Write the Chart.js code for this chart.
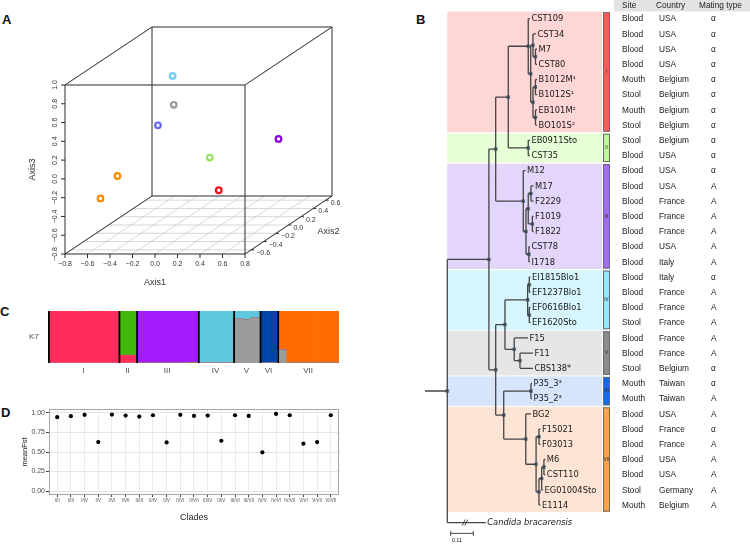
<!DOCTYPE html>
<html>
<head>
<meta charset="utf-8">
<script src="https://cdn.jsdelivr.net/npm/chart.js@4.4.1/dist/chart.umd.min.js"></script>
<style>
  html, body { margin: 0; padding: 0; background: #fff; }
  body { width: 750px; height: 544px; position: relative; overflow: hidden; font-family: 'Liberation Sans', Arial, sans-serif; }
  canvas { position: absolute; }
  .tag { position: absolute; font-weight: bold; font-size: 13px; line-height: 1; color: #111; }
</style>
</head>
<body>
<div class="tag" style="left:2px;top:13px">A</div>
<div class="tag" style="left:416px;top:13px">B</div>
<div class="tag" style="left:0px;top:305px">C</div>
<div class="tag" style="left:1px;top:406px">D</div>

<canvas id="pcoa" width="345" height="300" style="left:0;top:0;width:345px;height:300px"></canvas>
<canvas id="admix" width="345" height="85" style="left:0;top:300px;width:345px;height:85px"></canvas>
<canvas id="fst" width="345" height="149" style="left:0;top:395px;width:345px;height:149px"></canvas>
<canvas id="tree" width="350" height="544" style="left:400px;top:0;width:350px;height:544px"></canvas>

<script>
// ---------- A: 3D ordination of the clades ----------
const pcoaClades = ['I', 'II', 'III', 'IV', 'V', 'VI', 'VII', 'VII'];
const axis1Values = [0.18, -0.01, 0.49, -0.34, -0.22, -0.25, -0.61, -0.65];
const axis2Values = [0.0, 0.2, 0.4, 0.2, 0.0, -0.2, -0.2, -0.4];
const axis3Values = [-0.43, -0.17, -0.06, 0.70, 0.48, 0.35, -0.19, -0.34];
const axis1Ticks = [-0.8, -0.6, -0.4, -0.2, 0, 0.2, 0.4, 0.6, 0.8];
const axis2Ticks = [-0.6, -0.4, -0.2, 0, 0.2, 0.4, 0.6];
const axis3Ticks = [-0.8, -0.6, -0.4, -0.2, 0, 0.2, 0.4, 0.6, 0.8, 1.0];

// ---------- C: ancestry proportions, K = 7 (one value per strain) ----------
const popGrey   = [0,0,0,0,0,0,0,0, 0,0, 0,0,0,0,0,0,0, 0,0,0,0, 0.845,0.83,0.865, 0,0, 0.25,0,0,0,0,0,0];
const popRed    = [1,1,1,0.99,1,1,1,1, 0.15,0.15, 0,0,0,0,0,0,0, 0,0,0,0, 0,0,0, 0,0, 0,0,0,0,0,0,0];
const popGreen  = [0,0,0,0.01,0,0,0,0, 0.85,0.85, 0,0,0,0,0,0,0.01, 0,0,0,0, 0,0,0, 0,0, 0,0,0,0,0,0,0];
const popPurple = [0,0,0,0,0,0,0,0, 0,0, 1,1,1,1,1,1,0.99, 0,0,0,0, 0,0,0, 0,0, 0,0,0,0,0,0,0];
const popCyan   = [0,0,0,0,0,0,0,0, 0,0, 0,0,0,0,0,0,0, 1,1,1,1, 0.155,0.17,0.135, 0,0, 0,0,0,0,0,0,0];
const popBlue   = [0,0,0,0,0,0,0,0, 0,0, 0,0,0,0,0,0,0, 0,0,0,0, 0,0,0, 1,1, 0,0,0,0,0,0,0];
const popOrange = [0,0,0,0,0,0,0,0, 0,0, 0,0,0,0,0,0,0, 0,0,0,0, 0,0,0, 0,0, 0.75,1,1,1,1,1,1];

// ---------- D: pairwise mean Fst ----------
const fstPairs = ['I/II', 'I/III', 'I/IV', 'I/V', 'I/VI', 'I/VII', 'II/III', 'II/IV', 'II/V', 'II/VI', 'II/VII',
  'III/IV', 'III/V', 'III/VI', 'III/VII', 'IV/V', 'IV/VI', 'IV/VII', 'V/VI', 'V/VII', 'VI/VII'];
const meanFst = [0.945, 0.958, 0.975, 0.627, 0.979, 0.966, 0.953, 0.970, 0.623, 0.975, 0.962,
  0.966, 0.644, 0.970, 0.962, 0.496, 0.987, 0.970, 0.606, 0.627, 0.970];

// ---------- B: tree, clades and strain table ----------
const cladeNames = ['I', 'II', 'III', 'IV', 'V', 'VI', 'VII'];
const cladeSizes = [8, 2, 7, 4, 3, 2, 7];
const strainNames = ['CST109', 'CST34', 'M7', 'CST80', 'B1012M¹', 'B1012S¹', 'EB101M²', 'BO101S²',
  'EB0911Sto', 'CST35',
  'M12', 'M17', 'F2229', 'F1019', 'F1822', 'CST78', 'I1718',
  'EI1815Blo1', 'EF1237Blo1', 'EF0616Blo1', 'EF1620Sto',
  'F15', 'F11', 'CBS138*',
  'P35_3³', 'P35_2³',
  'BG2', 'F15021', 'F03013', 'M6', 'CST110', 'EG01004Sto', 'E1114'];
// distance of each tip from the root (substitutions per site)
const tipDepths = [0.401, 0.431, 0.436, 0.436, 0.436, 0.436, 0.436, 0.436,
  0.401, 0.401,
  0.380, 0.419, 0.419, 0.419, 0.419, 0.401, 0.401,
  0.404, 0.404, 0.404, 0.404,
  0.392, 0.416, 0.416,
  0.411, 0.411,
  0.406, 0.452, 0.452, 0.476, 0.476, 0.465, 0.452];
const sites = ['Blood', 'Blood', 'Blood', 'Blood', 'Mouth', 'Stool', 'Mouth', 'Stool',
  'Stool', 'Blood',
  'Blood', 'Blood', 'Blood', 'Blood', 'Blood', 'Blood', 'Blood',
  'Blood', 'Blood', 'Blood', 'Stool',
  'Blood', 'Blood', 'Stool',
  'Mouth', 'Mouth',
  'Blood', 'Blood', 'Blood', 'Blood', 'Blood', 'Stool', 'Mouth'];
const countries = ['USA', 'USA', 'USA', 'USA', 'Belgium', 'Belgium', 'Belgium', 'Belgium',
  'Belgium', 'USA',
  'USA', 'USA', 'France', 'France', 'France', 'USA', 'Italy',
  'Italy', 'France', 'France', 'France',
  'France', 'France', 'Belgium',
  'Taiwan', 'Taiwan',
  'USA', 'France', 'France', 'USA', 'USA', 'Germany', 'Belgium'];
const matingTypes = ['α', 'α', 'α', 'α', 'α', 'α', 'α', 'α',
  'α', 'α',
  'α', 'A', 'A', 'A', 'A', 'A', 'A',
  'α', 'A', 'A', 'A',
  'A', 'A', 'α',
  'α', 'A',
  'A', 'α', 'A', 'A', 'A', 'A', 'A'];
const outgroupName = 'Candida bracarensis';
const outgroupDepth = 0.187;
const outgroupRow = 33.15;
const scaleBarLength = 0.11;
// internal nodes: id, depth from root, two children (children listed before parents)
const treeNodes = [
  ['i1', 0.428, 'M7', 'CST80'],
  ['i2', 0.416, 'CST34', 'i1'],
  ['i3', 0.428, 'B1012M¹', 'B1012S¹'],
  ['i4', 0.428, 'EB101M²', 'BO101S²'],
  ['i5', 0.416, 'i3', 'i4'],
  ['i6', 0.405, 'i2', 'i5'],
  ['cI', 0.393, 'CST109', 'i6'],
  ['cII', 0.393, 'EB0911Sto', 'CST35'],
  ['i7', 0.296, 'cI', 'cII'],
  ['i8', 0.406, 'M17', 'F2229'],
  ['i9', 0.413, 'F1019', 'F1822'],
  ['i10', 0.393, 'i8', 'i9'],
  ['i11', 0.396, 'CST78', 'I1718'],
  ['i12', 0.382, 'i10', 'i11'],
  ['cIII', 0.369, 'M12', 'i12'],
  ['i13', 0.235, 'i7', 'cIII'],
  ['i14', 0.398, 'EI1815Blo1', 'EF1237Blo1'],
  ['i15', 0.398, 'EF0616Blo1', 'EF1620Sto'],
  ['cIV', 0.390, 'i14', 'i15'],
  ['i16', 0.353, 'F11', 'CBS138*'],
  ['cV', 0.325, 'F15', 'i16'],
  ['i17', 0.280, 'cIV', 'cV'],
  ['cVI', 0.406, 'P35_3³', 'P35_2³'],
  ['i18', 0.469, 'M6', 'CST110'],
  ['i19', 0.458, 'i18', 'EG01004Sto'],
  ['i20', 0.445, 'i19', 'E1114'],
  ['i21', 0.445, 'F15021', 'F03013'],
  ['i22', 0.431, 'i21', 'i20'],
  ['cVII', 0.381, 'BG2', 'i22'],
  ['i23', 0.274, 'cVI', 'cVII'],
  ['i24', 0.235, 'i17', 'i23'],
  ['i25', 0.202, 'i13', 'i24'],
  ['root', 0, 'i25', outgroupName]
];

// ---------- colours ----------
const pcoaColors = ['#e8141b', '#9be05c', '#8800dd', '#6fcbf2', '#9a9a9a', '#6868f0', '#ff8a00', '#ff8a00'];
const cladeShades = ['#ffd6d6', '#e6ffd6', '#e4d6fa', '#d6f5fc', '#e6e6e6', '#d6e4fc', '#fde4d4'];
const cladeStrong = ['#ff5a5a', '#bdf79a', '#a46cf5', '#8ee9fb', '#8c8c8c', '#0d6cf2', '#ffa347'];

const SANS = '"Liberation Sans", Arial, sans-serif';
const DEJAVU = '"DejaVu Sans", sans-serif';

// ======================= A =======================
const AX1 = [-0.8, 0.8], AX2 = [-0.7, 0.7], AX3 = [-0.8, 1.0];
const VIEW_DX = 0.5524, VIEW_DY = 0.4412;   // oblique shift per unit of Axis2

function project(a1, a2, a3) {
  const d = a2 - AX2[0];
  return { x: a1 + d * VIEW_DX, y: a3 + d * VIEW_DY };
}
const fmt1 = v => (Math.abs(v) < 1e-9 ? '0.0' : v.toFixed(1).replace('-', '−'));
const boxFar = project(AX1[1], AX2[1], AX3[1]);

const pcoaBox = {
  id: 'pcoaBox',
  beforeDatasetsDraw(chart) {
    const { ctx, scales: { x, y } } = chart;
    const P = (a, b, c) => { const p = project(a, b, c); return [x.getPixelForValue(p.x), y.getPixelForValue(p.y)]; };
    const seg = (p, q) => { ctx.beginPath(); ctx.moveTo(p[0], p[1]); ctx.lineTo(q[0], q[1]); ctx.stroke(); };
    ctx.save();
    // floor grid
    ctx.strokeStyle = '#cdcdcd';
    ctx.lineWidth = 0.8;
    axis1Ticks.forEach(v => seg(P(v, AX2[0], AX3[0]), P(v, AX2[1], AX3[0])));
    axis2Ticks.forEach(v => seg(P(AX1[0], v, AX3[0]), P(AX1[1], v, AX3[0])));
    // box
    ctx.strokeStyle = '#2a2a2a';
    ctx.lineWidth = 1;
    const face = b => [P(AX1[0], b, AX3[0]), P(AX1[1], b, AX3[0]), P(AX1[1], b, AX3[1]), P(AX1[0], b, AX3[1])];
    const front = face(AX2[0]), back = face(AX2[1]);
    for (let i = 0; i < 4; i++) {
      seg(back[i], back[(i + 1) % 4]);
      seg(front[i], front[(i + 1) % 4]);
      seg(front[i], back[i]);
    }
    ctx.fillStyle = '#333';
    ctx.font = '7px ' + SANS;
    ctx.textBaseline = 'middle';
    // Axis1 along the front floor edge
    ctx.textAlign = 'center';
    axis1Ticks.forEach(v => {
      const p = P(v, AX2[0], AX3[0]);
      seg(p, [p[0], p[1] + 4]);
      ctx.fillText(fmt1(v), p[0], p[1] + 10.5);
    });
    // Axis3 up the front left edge, rotated labels
    axis3Ticks.forEach(v => {
      const p = P(AX1[0], AX2[0], v);
      seg(p, [p[0] - 4, p[1]]);
      ctx.save();
      ctx.translate(p[0] - 10, p[1]);
      ctx.rotate(-Math.PI / 2);
      ctx.fillText(fmt1(v), 0, 0);
      ctx.restore();
    });
    // Axis2 along the right floor edge
    ctx.textAlign = 'left';
    axis2Ticks.forEach(v => {
      const p = P(AX1[1], v, AX3[0]);
      seg(p, [p[0] + 3, p[1]]);
      ctx.fillText(fmt1(v), p[0] + 5, p[1] + 3);
    });
    // axis titles
    ctx.textAlign = 'center';
    ctx.font = '9px ' + SANS;
    const f0 = P(AX1[0], AX2[0], AX3[0]), f1 = P(AX1[1], AX2[0], AX3[0]), ft = P(AX1[0], AX2[0], AX3[1]);
    ctx.fillText('Axis1', (f0[0] + f1[0]) / 2, f0[1] + 29);
    const a2 = P(AX1[1], 0, AX3[0]);
    ctx.fillText('Axis2', a2[0] + 40, a2[1] + 7);
    ctx.save();
    ctx.translate(f0[0] - 32, (f0[1] + ft[1]) / 2);
    ctx.rotate(-Math.PI / 2);
    ctx.fillText('Axis3', 0, 0);
    ctx.restore();
    ctx.restore();
  }
};

new Chart(document.getElementById('pcoa'), {
  type: 'scatter',
  data: {
    datasets: [{
      label: 'clades',
      data: axis1Values.map((a, i) => project(a, axis2Values[i], axis3Values[i])),
      pointBorderColor: pcoaColors,
      pointBackgroundColor: 'rgba(0,0,0,0)',
      pointRadius: 2.8,
      pointBorderWidth: 2.2,
      clip: false
    }]
  },
  options: {
    responsive: false,
    animation: false,
    events: [],
    // chart area = the whole projected box
    layout: { padding: { left: 65, right: 13, top: 27, bottom: 46 } },
    plugins: { legend: { display: false }, tooltip: { enabled: false } },
    scales: {
      x: { type: 'linear', display: false, min: AX1[0], max: boxFar.x },
      y: { type: 'linear', display: false, min: AX3[0], max: boxFar.y }
    }
  },
  plugins: [pcoaBox]
});

// ======================= C =======================
const admixFrame = {
  id: 'admixFrame',
  afterDatasetsDraw(chart) {
    const { ctx, chartArea: ca, scales: { x } } = chart;
    const half = (x.getPixelForValue(1) - x.getPixelForValue(0)) / 2;
    ctx.save();
    ctx.strokeStyle = '#000';
    ctx.lineWidth = 1.8;
    ctx.fillStyle = '#4d4d4d';
    ctx.font = '8px ' + SANS;
    ctx.textAlign = 'center';
    ctx.textBaseline = 'middle';
    let start = 0;
    cladeNames.forEach((name, k) => {
      const left = x.getPixelForValue(start) - half;
      const right = x.getPixelForValue(start + cladeSizes[k] - 1) + half;
      ctx.beginPath();
      ctx.moveTo(left + 0.9, ca.top);
      ctx.lineTo(left + 0.9, ca.bottom);
      ctx.stroke();
      ctx.fillText(name, (left + right) / 2, ca.bottom + 8);
      start += cladeSizes[k];
    });
    ctx.fillText('K7', ca.left - 14, (ca.top + ca.bottom) / 2);
    ctx.restore();
  }
};

const admixSets = [
  ['grey', popGrey, '#9b9b9b'],
  ['red', popRed, '#ff2d5b'],
  ['green', popGreen, '#43b80c'],
  ['purple', popPurple, '#a21cff'],
  ['cyan', popCyan, '#5ec7db'],
  ['blue', popBlue, '#0044a8'],
  ['orange', popOrange, '#ff6d00']
];

new Chart(document.getElementById('admix'), {
  type: 'bar',
  data: {
    labels: strainNames,
    datasets: admixSets.map(([label, values, color]) => ({
      label, data: values, backgroundColor: color, borderWidth: 0,
      barPercentage: 1, categoryPercentage: 1
    }))
  },
  options: {
    responsive: false,
    animation: false,
    events: [],
    layout: { padding: { left: 48, right: 6, top: 11, bottom: 22 } },
    plugins: { legend: { display: false }, tooltip: { enabled: false } },
    scales: {
      x: { stacked: true, display: false },
      y: { stacked: true, display: false, min: 0, max: 1 }
    }
  },
  plugins: [admixFrame]
});

// ======================= D =======================
const isMajor = v => Math.abs(v * 4 - Math.round(v * 4)) < 1e-6;

const fstFrame = {
  id: 'fstFrame',
  afterDatasetsDraw(chart) {
    const { ctx, chartArea: ca } = chart;
    ctx.save();
    ctx.strokeStyle = '#a6a6a6';
    ctx.lineWidth = 1;
    ctx.strokeRect(ca.left + 0.5, ca.top + 0.5, ca.right - ca.left - 1, ca.bottom - ca.top - 1);
    ctx.fillStyle = '#222';
    ctx.textAlign = 'center';
    ctx.textBaseline = 'middle';
    ctx.font = '9px ' + SANS;
    ctx.fillText('Clades', (ca.left + ca.right) / 2, ca.bottom + 23);
    ctx.font = '7.5px ' + SANS;
    ctx.translate(25, (ca.top + ca.bottom) / 2);
    ctx.rotate(-Math.PI / 2);
    ctx.fillText('meanFst', 0, 0);
    ctx.restore();
  }
};

new Chart(document.getElementById('fst'), {
  type: 'scatter',
  data: {
    datasets: [{
      label: 'meanFst',
      data: meanFst.map((v, i) => ({ x: i, y: v })),
      pointRadius: 2.1,
      pointBackgroundColor: '#000',
      pointBorderWidth: 0
    }]
  },
  options: {
    responsive: false,
    animation: false,
    events: [],
    layout: { padding: { left: 0, right: 6, top: 14, bottom: 39 } },
    plugins: { legend: { display: false }, tooltip: { enabled: false } },
    scales: {
      x: {
        type: 'linear', min: -0.6, max: fstPairs.length - 0.4,
        afterFit: s => { s.height = 10; },
        ticks: {
          stepSize: 1, includeBounds: false, autoSkip: false, maxRotation: 0, minRotation: 0,
          callback: v => fstPairs[v] || '', font: { size: 4.5, family: SANS }, color: '#4d4d4d', padding: 1
        },
        grid: { color: '#ebebeb', tickColor: '#444', tickLength: 2 },
        border: { display: false }
      },
      y: {
        type: 'linear', min: -0.05, max: 1.05,
        afterFit: s => { s.width = 49; },
        ticks: {
          stepSize: 0.125, includeBounds: false,
          callback: v => (isMajor(v) ? v.toFixed(2) : ''), font: { size: 7, family: SANS }, color: '#4d4d4d', padding: 1
        },
        grid: {
          color: c => (c.tick && !isMajor(c.tick.value) ? '#f2f2f2' : '#e6e6e6'),
          lineWidth: c => (c.tick && !isMajor(c.tick.value) ? 0.7 : 1),
          tickColor: c => (c.tick && !isMajor(c.tick.value) ? 'rgba(0,0,0,0)' : '#444'),
          tickLength: 3
        },
        border: { display: false }
      }
    }
  },
  plugins: [fstFrame]
});

// ======================= B =======================
const rowOf = {}, depthOf = {};
strainNames.forEach((n, i) => { rowOf[n] = i; depthOf[n] = tipDepths[i]; });
rowOf[outgroupName] = outgroupRow;
depthOf[outgroupName] = outgroupDepth;
treeNodes.forEach(([id, d, a, b]) => { depthOf[id] = d; rowOf[id] = (rowOf[a] + rowOf[b]) / 2; });

const GAP = { x: NaN, y: NaN };
const branchPoints = [];
treeNodes.forEach(([id, d, a, b]) => {
  branchPoints.push({ x: d, y: rowOf[a] }, { x: d, y: rowOf[b] }, GAP);
  [a, b].forEach(c => branchPoints.push({ x: d, y: rowOf[c] }, { x: depthOf[c], y: rowOf[c] }, GAP));
});
branchPoints.push({ x: -0.108, y: rowOf.root }, { x: 0, y: rowOf.root });
const nodePoints = treeNodes.map(([id]) => ({ x: depthOf[id], y: rowOf[id] }));

const BG_RIGHT = 202, BAR_LEFT = 203, TABLE_LEFT = 214;
const COL_SITE = 222, COL_COUNTRY = 259, COL_MATING = 311;

const treeDecor = {
  id: 'treeDecor',
  beforeDatasetsDraw(chart) {
    const { ctx, scales: { x, y } } = chart;
    const bgLeft = x.getPixelForValue(0);
    ctx.save();
    let start = 0;
    cladeNames.forEach((name, k) => {
      const top = y.getPixelForValue(start - 0.5) + 0.5;
      const bottom = y.getPixelForValue(start + cladeSizes[k] - 0.5) - 0.5;
      ctx.fillStyle = cladeShades[k];
      ctx.fillRect(bgLeft, top, BG_RIGHT - bgLeft, bottom - top);
      ctx.fillStyle = cladeStrong[k];
      ctx.fillRect(BAR_LEFT, top + 0.5, 7, bottom - top - 1);
      ctx.strokeStyle = '#6a6a6a';
      ctx.lineWidth = 1;
      ctx.strokeRect(BAR_LEFT + 0.5, top + 1, 6, bottom - top - 2);
      ctx.fillStyle = '#222';
      ctx.font = '4.5px ' + SANS;
      ctx.textAlign = 'center';
      ctx.textBaseline = 'middle';
      ctx.fillText(name, BAR_LEFT + 3.5, (top + bottom) / 2);
      start += cladeSizes[k];
    });
    ctx.restore();
  },
  afterDatasetsDraw(chart) {
    const { ctx, scales: { x, y } } = chart;
    ctx.save();
    ctx.fillStyle = '#1a1a1a';
    ctx.textAlign = 'left';
    ctx.textBaseline = 'middle';
    ctx.font = '8.3px ' + DEJAVU;
    strainNames.forEach((n, i) => ctx.fillText(n, x.getPixelForValue(tipDepths[i]) + 1.5, y.getPixelForValue(i) + 0.5));
    ctx.font = 'italic 8.3px ' + DEJAVU;
    ctx.fillText(outgroupName, x.getPixelForValue(outgroupDepth) + 1.5, y.getPixelForValue(outgroupRow) + 0.5);

    // break mark on the outgroup branch
    const bx = x.getPixelForValue(0.086), by = y.getPixelForValue(outgroupRow);
    ctx.strokeStyle = '#333';
    ctx.lineWidth = 0.9;
    [-1.3, 1.3].forEach(o => {
      ctx.beginPath();
      ctx.moveTo(bx + o - 1.5, by + 3);
      ctx.lineTo(bx + o + 1.5, by - 3);
      ctx.stroke();
    });

    // scale bar
    const sy = y.getPixelForValue(33.86);
    const sx0 = x.getPixelForValue(0.0165), sx1 = x.getPixelForValue(0.0165 + scaleBarLength);
    ctx.beginPath();
    ctx.moveTo(sx0, sy); ctx.lineTo(sx1, sy);
    ctx.moveTo(sx0, sy - 2.5); ctx.lineTo(sx0, sy + 2.5);
    ctx.moveTo(sx1, sy - 2.5); ctx.lineTo(sx1, sy + 2.5);
    ctx.stroke();
    ctx.font = '5.5px ' + SANS;
    ctx.fillText(String(scaleBarLength), sx0 + 1, sy + 7);

    // table
    ctx.fillStyle = '#e3e3e3';
    ctx.fillRect(TABLE_LEFT, 0, chart.width - TABLE_LEFT, 11.5);
    ctx.fillStyle = '#1a1a1a';
    ctx.font = '8.3px ' + SANS;
    ctx.fillText('Site', COL_SITE, 5.5);
    ctx.fillText('Country', COL_COUNTRY - 3, 5.5);
    ctx.fillText('Mating type', COL_MATING - 12, 5.5);
    strainNames.forEach((n, i) => {
      const ry = y.getPixelForValue(i) + 0.5;
      ctx.fillText(sites[i], COL_SITE, ry);
      ctx.fillText(countries[i], COL_COUNTRY, ry);
      ctx.fillText(matingTypes[i], COL_MATING, ry);
    });
    ctx.restore();
  }
};

new Chart(document.getElementById('tree'), {
  type: 'scatter',
  data: {
    datasets: [
      {
        label: 'branches',
        data: branchPoints,
        showLine: true,
        spanGaps: false,
        borderColor: '#454545',
        borderWidth: 1.3,
        pointRadius: 0,
        clip: false
      },
      {
        label: 'nodes',
        data: nodePoints,
        pointStyle: 'rect',
        pointRadius: 2.1,
        pointBackgroundColor: '#2f5270',
        pointBorderColor: '#5d7f99',
        pointBorderWidth: 0.5,
        clip: false
      }
    ]
  },
  options: {
    responsive: false,
    animation: false,
    events: [],
    layout: { padding: { left: 24.6, right: 199.7, top: 11.1, bottom: 16.1 } },
    plugins: { legend: { display: false }, tooltip: { enabled: false } },
    scales: {
      x: { type: 'linear', display: false, min: -0.11, max: 0.5 },
      y: { type: 'linear', display: false, min: -0.5, max: 33.5, reverse: true }
    }
  },
  plugins: [treeDecor]
});
</script>
</body>
</html>
